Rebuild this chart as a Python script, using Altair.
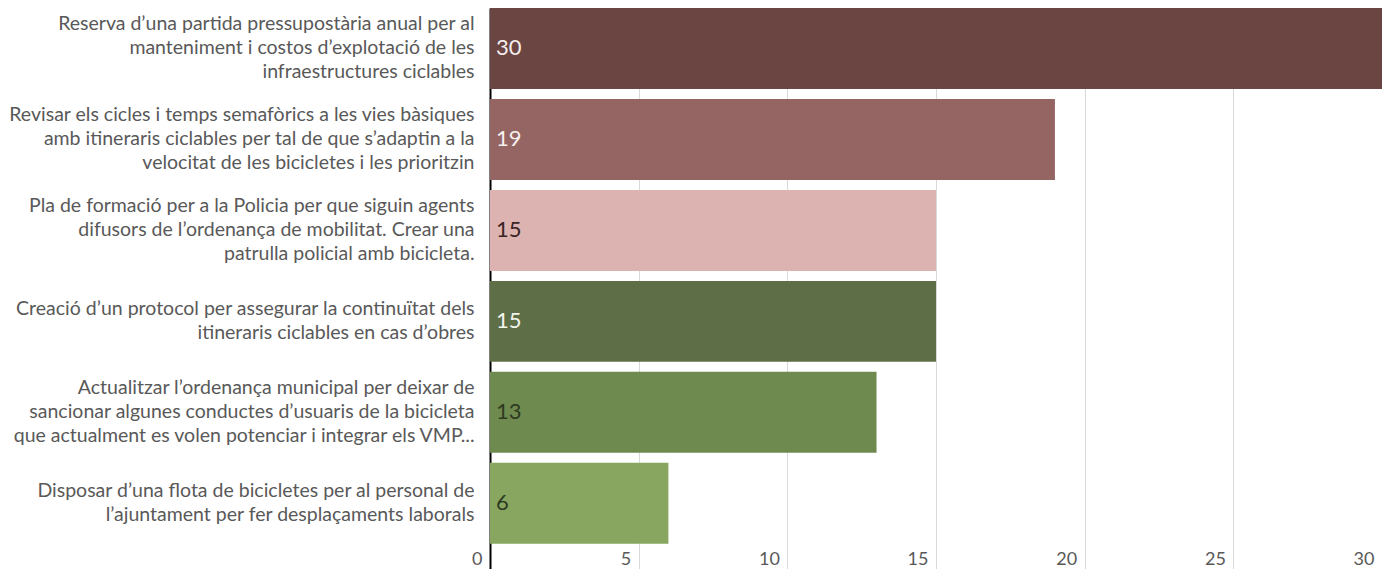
import altair as alt
import pandas as pd

categories = [
    "Reserva d’una partida pressupostària anual per al|manteniment i costos d’explotació de les|infraestructures ciclables",
    "Revisar els cicles i temps semafòrics a les vies bàsiques|amb itineraris ciclables per tal de que s’adaptin a la|velocitat de les bicicletes i les prioritzin",
    "Pla de formació per a la Policia per que siguin agents|difusors de l’ordenança de mobilitat. Crear una|patrulla policial amb bicicleta.",
    "Creació d’un protocol per assegurar la continuïtat dels|itineraris ciclables en cas d’obres",
    "Actualitzar l’ordenança municipal per deixar de|sancionar algunes conductes d’usuaris de la bicicleta|que actualment es volen potenciar i integrar els VMP...",
    "Disposar d’una flota de bicicletes per al personal de|l’ajuntament per fer desplaçaments laborals",
]
values = [30, 19, 15, 15, 13, 6]
bar_colors = ["#6B4542", "#956563", "#DCB3B1", "#5E6E47", "#6E8A4E", "#88A660"]
text_colors = ["#F4EEEE", "#F6F0F0", "#3A2424", "#F2F4EE", "#2E3A22", "#2E3A22"]
x_ticks = [0, 5, 10, 15, 20, 25, 30]

df = pd.DataFrame({
    "cat": categories,
    "value": values,
    "bar_color": bar_colors,
    "text_color": text_colors,
})

FONT = "Lato"
GREY = "#595959"

y_scale = alt.Scale(domain=categories, paddingInner=0.11, paddingOuter=0.1385, align=0)

y_enc = alt.Y(
    "cat:N",
    scale=y_scale,
    axis=alt.Axis(
        title=None,
        labelExpr="split(datum.label, '|')",
        labelAlign="right",
        labelBaseline="middle",
        labelLineHeight=24,
        labelFontSize=19.5,
        labelFont=FONT,
        labelColor=GREY,
        labelPadding=16,
        labelLimit=700,
        labelOffset=alt.ExprRef("-12 * (length(split(datum.label, '|')) - 1)"),
        ticks=False,
        grid=False,
        domain=True,
        domainColor="#000000",
        domainWidth=2,
    ),
)

x_enc = alt.X(
    "value:Q",
    scale=alt.Scale(domain=[0, 30], nice=False, zero=True),
    axis=alt.Axis(
        title=None,
        values=x_ticks,
        grid=True,
        gridColor="#D9D9D9",
        gridWidth=1,
        domain=False,
        ticks=False,
        labelAlign="right",
        labelOffset=-8,
        labelPadding=-1,
        labelBaseline="bottom",
        labelFontSize=18,
        labelFont=FONT,
        labelColor=GREY,
        labelFlush=False,
        labelOverlap=False,
    ),
)

bars = alt.Chart(df).mark_bar().encode(
    x=x_enc,
    y=y_enc,
    color=alt.Color("bar_color:N", scale=None),
)

labels = alt.Chart(df).mark_text(
    align="left", baseline="middle", fontSize=22, font=FONT
).encode(
    x=alt.value(6),
    y=alt.Y("cat:N", scale=y_scale),
    text=alt.Text("value:Q"),
    color=alt.Color("text_color:N", scale=None),
)

chart = (
    alt.layer(bars, labels)
    .properties(
        width=892,
        height=561,
        autosize=alt.AutoSizeParams(type="none"),
        padding={"left": 482, "top": 0, "right": 0, "bottom": 0},
    )
    .configure_view(stroke=None)
    .configure(background="white")
)

chart.save("out.html", embed_options={"renderer": "svg", "actions": False})
